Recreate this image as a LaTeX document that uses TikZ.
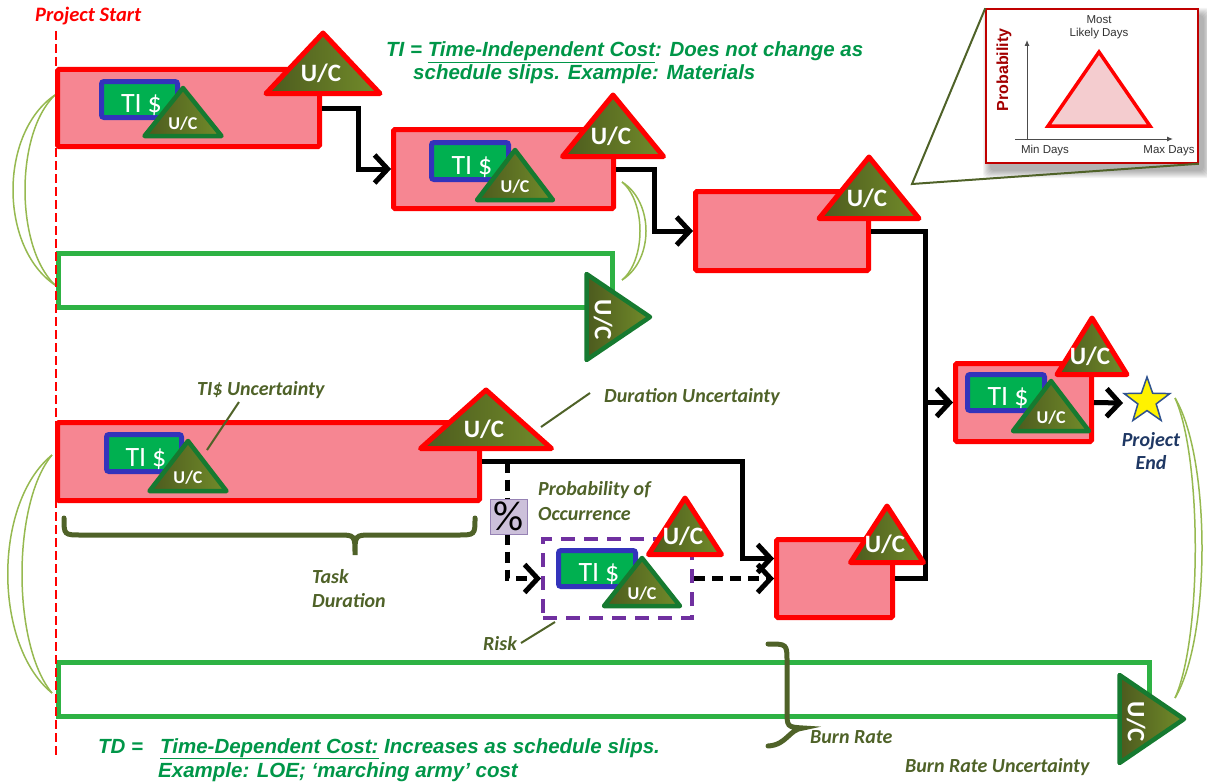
\documentclass[tikz,border=0pt]{standalone}
\usepackage{fontspec}
\usepackage{graphicx}
\setmainfont{Carlito}
\newfontfamily\arialfont{Liberation Sans}
\usetikzlibrary{arrows.meta,shapes.geometric,fit,calc}

\definecolor{taskred}{RGB}{255,0,0}
\definecolor{taskpink}{RGB}{246,134,146}
\definecolor{tigreen}{RGB}{0,176,80}
\definecolor{tiblue}{RGB}{51,51,187}
\definecolor{olivedk}{RGB}{76,90,30}
\definecolor{olivelt}{RGB}{114,140,42}
\definecolor{trigreen}{RGB}{22,122,48}
\definecolor{bargreen}{RGB}{46,178,68}
\definecolor{arcolive}{RGB}{150,185,80}
\definecolor{labelolive}{RGB}{79,98,40}
\definecolor{notegreen}{RGB}{0,150,72}
\definecolor{riskpurple}{RGB}{112,48,160}
\definecolor{pctfill}{RGB}{204,192,218}
\definecolor{pctdraw}{RGB}{150,130,180}
\definecolor{endnavy}{RGB}{31,56,100}
\definecolor{starnavy}{RGB}{47,82,143}
\definecolor{insetred}{RGB}{192,0,0}
\definecolor{insetpink}{RGB}{244,204,207}
\definecolor{insetgray}{RGB}{50,50,50}

\tikzset{
  taskbox/.style={draw=taskred, fill=taskpink, line width=5pt, inner sep=0pt, rounded corners=1.5pt},
  tibox/.style={draw=tiblue, fill=tigreen, line width=5pt, inner sep=0pt, rounded corners=2.5pt},
  titext/.style={text=white, font=\fontsize{28}{28}\selectfont, inner sep=0pt, anchor=base},
  riskbox/.style={draw=riskpurple, line width=4pt, dash pattern=on 14pt off 9pt, inner sep=0pt},
  redtri/.style={draw=taskred, line width=5pt, line join=round, left color=olivedk, right color=olivelt},
  grntri/.style={draw=trigreen, line width=4.5pt, line join=round, left color=olivedk, right color=olivelt},
  ucbig/.style={text=white, font=\fontsize{25}{25}\selectfont\bfseries, inner sep=0pt},
  ucsmall/.style={text=white, font=\fontsize{18}{18}\selectfont\bfseries, inner sep=0pt},
  costbar/.style={draw=bargreen, line width=5pt, inner sep=0pt},
  flow/.style={draw=black, line width=5pt, -{Straight Barb[length=13pt,width=28pt]}},
  link/.style={draw=black, line width=5pt},
  maybe/.style={dash pattern=on 11pt off 7pt},
  crescent/.style={draw=arcolive, line width=1.5pt},
  leader/.style={draw=labelolive, line width=2pt},
  bracket/.style={draw=labelolive, line width=5pt, line cap=round},
  lbl/.style={text=labelolive, font=\fontsize{20}{22}\selectfont\bfseries\itshape, inner sep=0pt},
  note/.style={text=notegreen, font=\arialfont\fontsize{20.5}{22}\selectfont\bfseries\itshape, inner sep=0pt},
  insettxt/.style={text=insetgray, font=\arialfont\fontsize{11.5}{12}\selectfont, inner sep=0pt},
}

% red-rimmed U/C triangle: name, apex x, apex y, half width, height
\newcommand\RedTri[5]{%
  \draw[redtri] (#2,{#3+3}) -- ({#2+#4-4},{#3+#5-2.5}) -- ({#2-#4+4},{#3+#5-2.5}) -- cycle;
  \node[ucbig] (#1) at ({#2-2},{#3+0.66*#5}) {U/C};}
% green-rimmed U/C triangle: name, apex x, apex y, half width, height
\newcommand\GrnTri[5]{%
  \draw[grntri] (#2,{#3+3}) -- ({#2+#4-3.5},{#3+#5-2}) -- ({#2-#4+3.5},{#3+#5-2}) -- cycle;
  \node[ucsmall] (#1) at (#2,{#3+0.72*#5}) {U/C};}
% right-pointing U/C triangle on a cost bar: name, left x, top y, width, height
\newcommand\SideTri[5]{%
  \draw[grntri] ({#2+2.5},{#3+4}) -- ({#2+#4-4},{#3+#5/2}) -- ({#2+2.5},{#3+#5-4}) -- cycle;
  \node[ucbig, rotate=-90] (#1) at ({#2+19},{#3+#5/2+3}) {U/C};}
% time-independent cost box with its label: name, left, top, right, bottom (border centre line)
\newcommand\TIBox[5]{%
  \node[tibox, fit={(#2,#3)(#4,#5)}] (#1) {};
  \node[titext] (#1-txt) at ($(#1.south)+(2,-8)$) {TI\hspace{6pt}\$};}

\begin{document}
\begin{tikzpicture}[x=1pt,y=-1pt]
\useasboundingbox (0,0) rectangle (1207,784);

% ---- probability inset with callout ----
% soft shadow built from stacked translucent rectangles
\foreach \r in {0,1,...,7}{
  \fill[black, opacity=0.045, rounded corners=4pt] ({990-\r},{15-\r}) rectangle ({1204+\r},{171+\r});
}
\node[draw=insetred, line width=1.5pt, fill=white, inner sep=0pt, fit={(986,9)(1198,163)}] (inset) {};
\coordinate (callpt) at (912,184);
\draw[draw=labelolive, line width=2pt] (inset.north west) -- (callpt) -- (inset.south east);
\node[rotate=90, text=insetred!85!black, font=\arialfont\bfseries\fontsize{16}{16}\selectfont, inner sep=0pt] (problbl) at (1004,70) {Probability};
\draw[line width=1pt, draw=black!70, -{Latex[length=6pt,width=5pt]}] (1027,140) -- (1027,40);
\draw[line width=1pt, draw=black!70, -{Latex[length=6pt,width=5pt]}] (1015,139) -- (1173,139);
\draw[draw=taskred, line width=3.5pt, fill=insetpink, line join=miter] (1099,52) -- (1150,126) -- (1048,126) -- cycle;
\node[insettxt] (most) at (1099,20) {Most};
\node[insettxt] (likely) at (1099,34) {Likely Days};
\node[insettxt] (mindays) at (1045,151) {Min Days};
\node[insettxt] (maxdays) at (1169,151) {Max Days};

% ---- correlation arcs ----
\draw[crescent] (55,95) .. controls (-1,133) and (-1,247) .. (55,285);
\draw[crescent] (55,95) .. controls (15,133) and (15,247) .. (55,285);
\draw[crescent] (52,455) .. controls (-7,503) and (-7,645) .. (52,693);
\draw[crescent] (52,455) .. controls (12,503) and (12,645) .. (52,693);
\draw[crescent] (622,182) .. controls (654,202) and (654,260) .. (622,280);
\draw[crescent] (622,182) .. controls (646,202) and (646,260) .. (622,280);
\draw[crescent] (1175,398) .. controls (1211,458) and (1211,638) .. (1175,698);
\draw[crescent] (1175,398) .. controls (1202,458) and (1202,638) .. (1175,698);

% ---- time-dependent cost bars ----
\node[costbar, fit={(58,253)(612,307)}] (TB) {};
\SideTri{ucTB}{584}{270}{70}{94}
\node[costbar, fit={(58,662)(1149,716)}] (BB) {};
\SideTri{ucBB}{1117}{671}{71}{96}

% ---- tasks ----
\node[taskbox, fit={(57.5,69.5)(319.5,146.5)}] (A) {};
\node[taskbox, fit={(393.5,129.5)(613.5,208.5)}] (B) {};
\node[taskbox, fit={(695.5,191.5)(868.5,270.5)}] (C) {};
\node[taskbox, fit={(57.5,422.5)(479.5,500.5)}] (D) {};
\node[taskbox, fit={(776.5,539.5)(892.5,617.5)}] (E) {};
\node[taskbox, fit={(955.5,363.5)(1091.5,441.5)}] (F) {};
\node[riskbox, fit={(543,539)(692,618)}] (R) {};

% ---- logic links ----
\draw[flow] (A.east) -- ++(36,0) |- (B.west);
\draw[flow] (B.east) -- ++(38,0) |- (C.west);
\coordinate (railE) at ($(E.east)+(30,0)$);
\coordinate (railF) at (railE |- F.west);
\draw[link] (C.east) -| (railE) -- (E.east);
\draw[flow] (railF) -- (F.west);
\draw[flow] (D.east) -- ++(260,0) |- ($(E.west)+(0,-20)$);
\draw[flow, maybe] ($(D.east)+(25,0)$) |- (R.west);
\draw[flow, maybe] (R.east) -- (E.west);
\node[draw=pctdraw, fill=pctfill, line width=1pt, inner sep=0pt, fit={(490,499)(527,534)}] (pct) {};
\node[font=\fontsize{42}{42}\selectfont, inner sep=0pt] (pct-txt) at (pct.center) {\%};
\coordinate (endin) at (1123,403);
\draw[flow] (F.east) -- (endin);

% ---- time-independent cost boxes ----
\TIBox{tiA}{101.5}{81.5}{177.5}{117.5}
\TIBox{tiB}{431.5}{142.5}{508.5}{179.5}
\TIBox{tiD}{106.5}{434.5}{181.5}{471.5}
\TIBox{tiR}{558.5}{550.5}{635.5}{586.5}
\TIBox{tiF}{967.5}{374.5}{1044.5}{410.5}

% ---- uncertainty triangles ----
\RedTri{ucA}{323}{30}{61}{66}
\RedTri{ucB}{613}{92}{54.5}{67}
\RedTri{ucC}{869}{154}{54}{67}
\RedTri{ucD}{486}{387}{69.5}{64}
\RedTri{ucE}{887}{503}{40.5}{62}
\RedTri{ucR}{685}{495}{40.5}{62}
\RedTri{ucF}{1092}{315}{39}{62}
\GrnTri{ucAs}{183}{85}{42}{53}
\GrnTri{ucBs}{515}{147}{41.5}{55}
\GrnTri{ucDs}{188}{438}{42}{55}
\GrnTri{ucRs}{642}{555}{41.5}{53}
\GrnTri{ucFs}{1051}{378}{41.5}{55}

% ---- project end ----
\node[star, star points=5, star point ratio=2.5, minimum size=48pt, inner sep=0pt,
      fill=yellow, draw=starnavy, line width=1.5pt] (star) at (1147,401) {};
\node[text=endnavy, font=\fontsize{20}{22}\selectfont\bfseries\itshape, inner sep=0pt, anchor=base] (endA) at (1151,446) {Project};
\node[text=endnavy, font=\fontsize{20}{22}\selectfont\bfseries\itshape, inner sep=0pt, anchor=base] (endB) at (1151,469) {End};

% ---- project start line ----
\draw[draw=taskred, line width=2.5pt, dash pattern=on 9pt off 4pt] (56,31) -- (56,755);
\node[text=taskred, font=\fontsize{20.5}{22}\selectfont\bfseries\itshape, inner sep=0pt, anchor=base west] (start) at (35,22) {Project Start};

% ---- braces ----
\draw[bracket] (64,518) .. controls (64,535) .. (82,535) -- (338,535)
  .. controls (355,535) .. (355,555) .. controls (355,535) .. (372,535) -- (457,535)
  .. controls (475,535) .. (475,518);
\draw[bracket] (768,644) .. controls (787,644) .. (787,662) -- (787,710)
  .. controls (787,727) .. (803,728) .. controls (789,729) and (787,745) .. (768,746);

% ---- labels ----
\node[lbl, anchor=base west] (tiunc) at (197,395) {TI\$ Uncertainty};
\coordinate (tiuA) at (239,402); \coordinate (tiuB) at (207,450);
\draw[leader] (tiuA) -- (tiuB);
\node[lbl, anchor=base west] (durunc) at (604,402) {Duration Uncertainty};
\coordinate (duA) at (590,393); \coordinate (duB) at (541,427);
\draw[leader] (duA) -- (duB);
\node[lbl, anchor=base west] (probA) at (538,495) {Probability of};
\node[lbl, anchor=base west] (probB) at (538,520) {Occurrence};
\node[lbl, anchor=base west] (taskA) at (312,583) {Task};
\node[lbl, anchor=base west] (taskB) at (312,607) {Duration};
\node[lbl, anchor=base west] (risk) at (483,650) {Risk};
\coordinate (rkA) at (521,643); \coordinate (rkB) at (555,622);
\draw[leader] (rkA) -- (rkB);
\node[lbl, anchor=base west] (burn) at (810,743) {Burn Rate};
\node[lbl, anchor=base west] (burnunc) at (905,772) {Burn Rate Uncertainty};

% ---- cost notes ----
\node[note, anchor=base west] (tiA1) at (386,57) {TI = \underline{Time-Independent Cost}: Does not change as};
\node[note, anchor=base west] (tiA2) at (413,80) {schedule slips. Example: Materials};
\node[note, anchor=base west] (tdA0) at (98,753) {TD =};
\node[note, anchor=base west] (tdA1) at (160,753) {\underline{Time-Dependent Cost:} Increases as schedule slips.};
\node[note, anchor=base west] (tdA2) at (158,777) {Example: LOE; ‘marching army’ cost};
\end{tikzpicture}
\end{document}
